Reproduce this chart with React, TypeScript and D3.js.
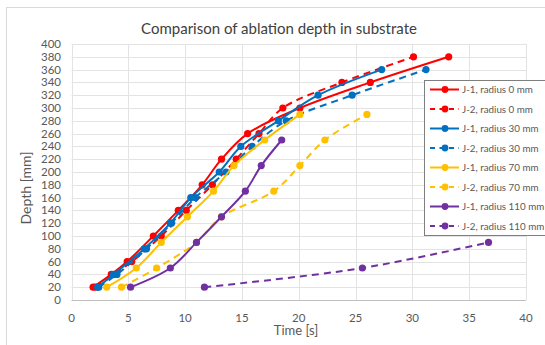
import React from "react";
import * as d3 from "d3";

const xTicks = [0, 5, 10, 15, 20, 25, 30, 35, 40];
const yTicks = [0, 20, 40, 60, 80, 100, 120, 140, 160, 180, 200, 220, 240, 260, 280, 300, 320, 340, 360, 380, 400];

const red1: [number, number][] = [[1.9, 20], [3.5, 40], [4.9, 60], [7.2, 100], [9.4, 140], [11.5, 180], [13.2, 220], [15.5, 260], [20.1, 300], [26.3, 340], [33.2, 380]];
const red2: [number, number][] = [[2.1, 20], [5.3, 60], [7.9, 100], [10.1, 140], [12.4, 180], [14.5, 220], [16.5, 260], [18.6, 300], [23.8, 340], [30.1, 380]];
const blue1: [number, number][] = [[2.3, 20], [3.7, 40], [6.4, 80], [8.7, 120], [10.5, 160], [13.0, 200], [14.9, 240], [18.2, 280], [21.7, 320], [27.3, 360]];
const blue2: [number, number][] = [[2.4, 20], [4.0, 40], [6.6, 80], [8.8, 120], [10.9, 160], [13.6, 200], [15.9, 240], [18.9, 280], [24.7, 320], [31.2, 360]];
const yellow1: [number, number][] = [[3.1, 20], [5.7, 50], [7.9, 90], [10.2, 130], [12.5, 170], [14.3, 210], [17.0, 250], [20.1, 290]];
const yellow2: [number, number][] = [[4.4, 20], [7.5, 50], [11.0, 90], [13.2, 130], [17.8, 170], [20.1, 210], [22.3, 250], [26.0, 290]];
const purple1: [number, number][] = [[5.2, 20], [8.7, 50], [11.0, 90], [13.2, 130], [15.3, 170], [16.7, 210], [18.5, 250]];
const purple2: [number, number][] = [[11.7, 20], [25.6, 50], [36.7, 90]];

const seriesNames = [
  "J-1, radius 0 mm", "J-2, radius 0 mm",
  "J-1, radius 30 mm", "J-2, radius 30 mm",
  "J-1, radius 70 mm", "J-2, radius 70 mm",
  "J-1, radius 110 mm", "J-2, radius 110 mm",
];
const seriesData = [red1, red2, blue1, blue2, yellow1, yellow2, purple1, purple2];
const seriesColors = ["#FF0000", "#FF0000", "#0070C0", "#0070C0", "#FFC000", "#FFC000", "#7030A0", "#7030A0"];
const seriesDashed = [false, true, false, true, false, true, false, true];

export default function App() {
  const W = 545, H = 345;
  const L = 71.5, R = 526, T = 44, B = 300;
  const x = d3.scaleLinear().domain([0, 40]).range([L, R]);
  const y = d3.scaleLinear().domain([0, 400]).range([B, T]);
  const line = d3.line<[number, number]>()
    .x(d => x(d[0]))
    .y(d => y(d[1]))
    .curve(d3.curveCatmullRom.alpha(0.5));
  const font = "Lato, 'Open Sans', sans-serif";
  const textColor = "#595959";
  const dash = "7,5";
  const legX = 424, legY = 80, legW = 125, legH = 155;

  return (
    <svg width={W} height={H} style={{ position: "absolute", left: 0, top: 0, background: "#fff" }}>
      <rect x={0} y={0} width={W} height={H} fill="#fff" />
      <rect x={6.5} y={7.5} width={W} height={H} fill="none" stroke="#d9d9d9" />
      <text x={279} y={33.5} textAnchor="middle" fontFamily={font} fontSize={15} fill="#404040">
        Comparison of ablation depth in substrate
      </text>
      {yTicks.map(t => (
        <line key={"gy" + t} x1={L} x2={R} y1={Math.round(y(t)) + 0.5} y2={Math.round(y(t)) + 0.5}
          stroke={t === 0 ? "#bfbfbf" : "#e3e3e3"} strokeWidth={1} />
      ))}
      {xTicks.map(t => (
        <line key={"gx" + t} y1={T} y2={B} x1={Math.round(x(t)) + 0.5} x2={Math.round(x(t)) + 0.5}
          stroke="#e3e3e3" strokeWidth={1} />
      ))}
      {yTicks.map(t => (
        <text key={"ty" + t} x={61} y={y(t) + 4} textAnchor="end" fontFamily={font} fontSize={11.5} fill={textColor}>
          {t}
        </text>
      ))}
      {xTicks.map(t => (
        <text key={"tx" + t} x={x(t)} y={321.5} textAnchor="middle" fontFamily={font} fontSize={11.5} fill={textColor}>
          {t}
        </text>
      ))}
      <text x={296} y={335} textAnchor="middle" fontFamily={font} fontSize={13} fill={textColor}>Time [s]</text>
      <text transform="translate(31,188) rotate(-90)" textAnchor="middle" fontFamily={font} fontSize={14} fill={textColor}>Depth [mm]</text>

      {seriesData.map((d, i) => (
        <g key={"s" + i}>
          <path d={line(d) || ""} fill="none" stroke={seriesColors[i]} strokeWidth={2}
            strokeDasharray={seriesDashed[i] ? dash : undefined} />
          {d.map((p, j) => (
            <circle key={j} cx={x(p[0])} cy={y(p[1])} r={3.6} fill={seriesColors[i]} />
          ))}
        </g>
      ))}

      <rect x={legX + 0.5} y={legY + 0.5} width={legW} height={legH} fill="#fff" stroke="#7f7f7f" strokeWidth={1} />
      {seriesNames.map((n, i) => {
        const cy = legY + 9.5 + i * 19.5;
        return (
          <g key={"l" + i}>
            <line x1={430} x2={459} y1={cy} y2={cy} stroke={seriesColors[i]} strokeWidth={2}
              strokeDasharray={seriesDashed[i] ? "5,4.5" : undefined} />
            <circle cx={445} cy={cy} r={3.4} fill={seriesColors[i]} />
            <text x={462} y={cy + 3.5} fontFamily={font} fontSize={9.8} fill={textColor}>{n}</text>
          </g>
        );
      })}
    </svg>
  );
}
